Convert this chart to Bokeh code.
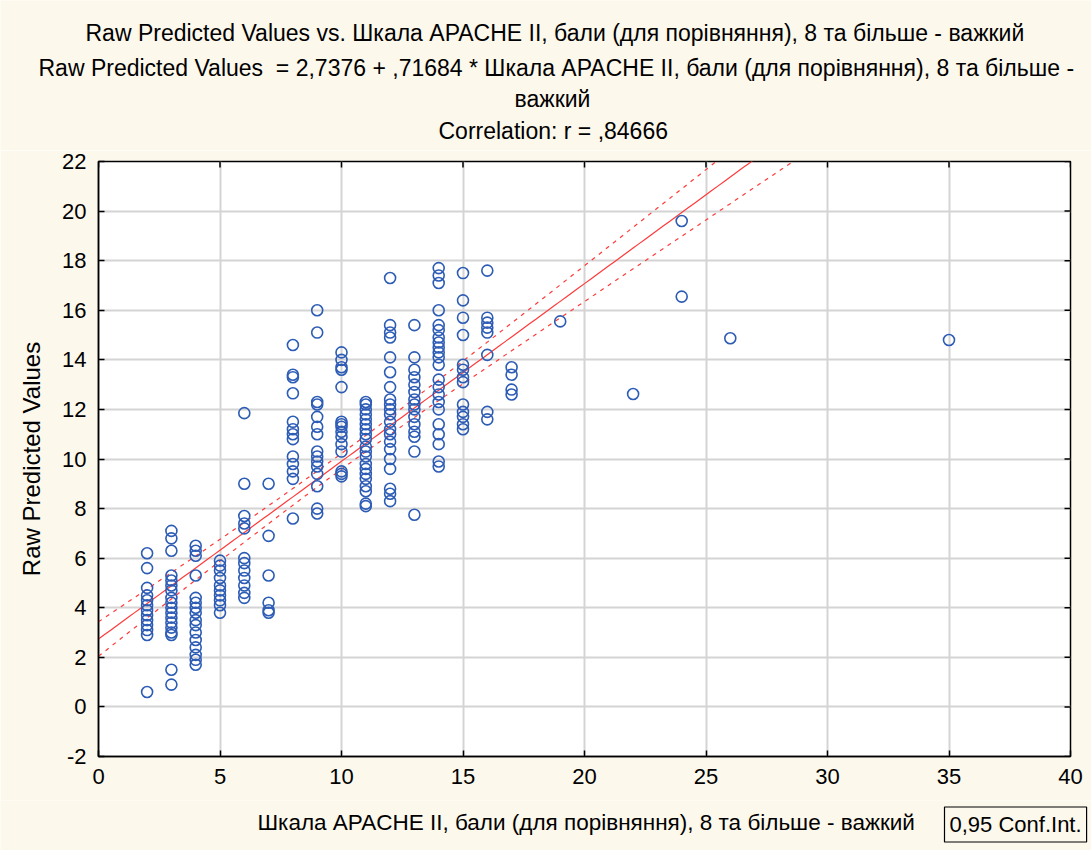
import numpy as np
from bokeh.plotting import figure
from bokeh.layouts import column
from bokeh.models import Label, FixedTicker, Range1d, Plot
from bokeh.embed import file_html
from bokeh.resources import INLINE

# ---- data ----
apache_2 = [6.2, 5.6, 4.8, 4.5, 4.3, 4.1, 3.9, 3.7, 3.5, 3.3, 3.1, 2.9, 0.6]
apache_3 = [7.1, 6.8, 6.3, 5.3, 5.1, 4.9, 4.7, 4.4, 4.2, 4.0, 3.8, 3.6, 3.4, 3.2, 3.0, 2.9, 1.5, 0.9]
apache_4 = [6.5, 6.3, 6.1, 5.3, 4.4, 4.2, 4.0, 3.8, 3.5, 3.3, 3.0, 2.7, 2.4, 2.1, 1.9, 1.7]
apache_5 = [5.9, 5.7, 5.5, 5.2, 4.9, 4.7, 4.5, 4.3, 4.1, 3.8]
apache_6 = [11.85, 9.0, 7.7, 7.4, 7.2, 6.0, 5.8, 5.5, 5.2, 4.9, 4.6, 4.4]
apache_7 = [9.0, 6.9, 5.3, 4.2, 3.9, 3.8]
apache_8 = [14.6, 13.4, 13.3, 12.65, 11.5, 11.2, 11.0, 10.8, 10.1, 9.8, 9.5, 9.2, 7.6]
apache_9 = [16.0, 15.1, 12.3, 12.2, 11.7, 11.3, 11.0, 10.3, 10.1, 9.9, 9.7, 9.4, 8.9, 8.0, 7.8]
apache_10 = [14.3, 14.0, 13.7, 13.6, 12.9, 11.5, 11.4, 11.3, 11.1, 10.9, 10.6, 10.3, 9.5, 9.4, 9.3]
apache_11 = [12.3, 12.2, 12.0, 11.8, 11.6, 11.4, 11.2, 11.0, 10.8, 10.5, 10.3, 10.1, 9.8, 9.6, 9.4,
             9.2, 8.9, 8.7, 8.2, 8.1]
apache_12 = [17.3, 15.4, 15.1, 14.9, 14.1, 13.5, 12.9, 12.4, 12.2, 12.0, 11.8, 11.5, 11.2, 11.0, 10.7,
             10.4, 10.0, 9.6, 8.8, 8.6, 8.3]
apache_13 = [15.4, 14.1, 13.6, 13.3, 13.0, 12.7, 12.4, 12.2, 12.0, 11.7, 11.4, 11.1, 10.9, 10.3, 7.75]
apache_14 = [17.7, 17.4, 17.1, 16.0, 15.4, 15.2, 14.9, 14.7, 14.5, 14.3, 14.1, 13.8, 13.2, 12.9, 12.6,
             12.3, 12.0, 11.4, 11.0, 10.6, 9.9, 9.7]
apache_15 = [17.5, 16.4, 15.7, 15.0, 13.8, 13.6, 13.3, 13.1, 12.2, 11.9, 11.7, 11.4, 11.2]
apache_16 = [17.6, 15.7, 15.5, 15.3, 15.1, 14.2, 11.9, 11.6]
apache_17 = [13.7, 13.4, 12.8, 12.6]
apache_19 = [15.55]
apache_22 = [12.62]
apache_24 = [19.6, 16.55]
apache_26 = [14.87]
apache_35 = [14.8]

score_columns = {2: apache_2, 3: apache_3, 4: apache_4, 5: apache_5, 6: apache_6, 7: apache_7,
                 8: apache_8, 9: apache_9, 10: apache_10, 11: apache_11, 12: apache_12,
                 13: apache_13, 14: apache_14, 15: apache_15, 16: apache_16, 17: apache_17,
                 19: apache_19, 22: apache_22, 24: apache_24, 26: apache_26, 35: apache_35}

INTERCEPT = 2.7376
SLOPE = 0.71684

x_ticks = [0, 5, 10, 15, 20, 25, 30, 35, 40]
y_ticks = [-2, 0, 2, 4, 6, 8, 10, 12, 14, 16, 18, 20, 22]

title_1 = "Raw Predicted Values vs. Шкала APACHE II, бали (для порівняння), 8 та більше - важкий"
title_2 = "Raw Predicted Values\u00a0 = 2,7376 + ,71684 * Шкала APACHE II, бали (для порівняння), 8 та більше -"
title_3 = "важкий"
title_4 = "Correlation: r = ,84666"
x_label = "Шкала APACHE II, бали (для порівняння), 8 та більше - важкий"
y_label = "Raw Predicted Values"
legend_text = "0,95 Conf.Int."

# ---- build arrays ----
xs, ys = [], []
for k, vals in score_columns.items():
    xs += [k] * len(vals)
    ys += vals
xs = np.array(xs, dtype=float)
ys = np.array(ys, dtype=float)

# regression line & 95% confidence band of the mean
n = len(xs)
resid = ys - (INTERCEPT + SLOPE * xs)
s = np.sqrt(np.sum(resid ** 2) / (n - 2))
xbar = xs.mean()
sxx = np.sum((xs - xbar) ** 2)
grid = np.linspace(0, 40, 161)
fit = INTERCEPT + SLOPE * grid
half = 1.97 * s * np.sqrt(1.0 / n + (grid - xbar) ** 2 / sxx)

FONT = "Liberation Sans"
CREAM = "#FDF8EC"
BLUE = "#2D5CB5"
RED = "#FF3A3A"

W = 1091
H_HEAD = 150
H_MAIN = 650
H_FOOT = 50

HAS_FRAME_ALIGN = "frame_align" in Plot.properties()


def text_panel(height):
    f = figure(width=W, height=height, output_backend="svg", toolbar_location=None,
               x_range=Range1d(0, W), y_range=Range1d(height, 0),
               x_axis_type=None, y_axis_type=None, min_border=0,
               background_fill_color=CREAM, border_fill_color=CREAM)
    f.outline_line_color = None
    f.grid.visible = False
    if HAS_FRAME_ALIGN:
        f.frame_align = False
    return f


# ---- header with the titles ----
head = text_panel(H_HEAD)
for txt, x0, yc in ((title_1, 85, 32), (title_2, 38, 67), (title_3, 514, 98), (title_4, 438, 130)):
    head.add_layout(Label(x=x0, y=yc, text=txt, text_align="left", text_baseline="middle",
                          text_font=FONT, text_font_size="23px", text_color="black"))

# ---- main plot ----
p = figure(width=W, height=H_MAIN, output_backend="svg", toolbar_location=None,
           x_range=Range1d(0, 40), y_range=Range1d(-2, 22),
           min_border_left=98, min_border_right=21, min_border_top=11, min_border_bottom=44,
           background_fill_color="white", border_fill_color=CREAM)
if HAS_FRAME_ALIGN:
    p.frame_align = False
p.outline_line_color = "black"
p.outline_line_width = 1.5

for ax in (p.xaxis[0], p.yaxis[0]):
    ax.major_label_text_font = FONT
    ax.major_label_text_font_size = "22px"
    ax.major_label_text_color = "black"
    ax.axis_label_text_font = FONT
    ax.axis_label_text_font_style = "normal"
    ax.axis_label_text_color = "black"
    ax.major_tick_in = 6
    ax.major_tick_out = 0
    ax.minor_tick_line_color = None
    ax.axis_line_color = "black"
    ax.axis_line_width = 1.5
    ax.major_tick_line_color = "black"
    ax.major_tick_line_width = 1.5

p.xaxis[0].ticker = FixedTicker(ticks=x_ticks)
p.yaxis[0].ticker = FixedTicker(ticks=y_ticks)
p.yaxis[0].major_label_overrides = {t: str(t) for t in y_ticks}
p.yaxis[0].axis_label = y_label
p.yaxis[0].axis_label_text_font_size = "24px"
p.xaxis[0].major_label_standoff = 12
p.yaxis[0].major_label_standoff = 12
p.yaxis[0].axis_label_standoff = 14

p.xgrid.ticker = FixedTicker(ticks=x_ticks)
p.ygrid.ticker = FixedTicker(ticks=y_ticks)
p.grid.grid_line_color = "#D4D4D4"
p.grid.grid_line_width = 2

# inward tick marks on the top and right frame edges
p.scatter(x_ticks, [22] * len(x_ticks), marker="dash", angle=np.pi / 2, size=12,
          line_color="black", line_width=1.5)
p.scatter([40] * len(y_ticks), y_ticks, marker="dash", size=12,
          line_color="black", line_width=1.5)

# band and fit
p.line(grid, fit + half, line_color=RED, line_width=1.2, line_dash="4 5")
p.line(grid, fit - half, line_color=RED, line_width=1.2, line_dash="4 5")
p.line(grid, fit, line_color=RED, line_width=1.2)

p.scatter(xs, ys, marker="circle", size=11, fill_color=None, line_color=BLUE, line_width=1.6)

# ---- footer: x-axis title and the confidence-interval legend box ----
foot = text_panel(H_FOOT)
foot.add_layout(Label(x=257, y=22, text=x_label, text_align="left", text_baseline="middle",
                      text_font=FONT, text_font_size="22.5px", text_color="black"))
foot.add_layout(Label(x=944, y=24, text=legend_text, text_align="left", text_baseline="middle",
                      text_font=FONT, text_font_size="22px", text_color="black",
                      border_line_color="black", border_line_width=1.2,
                      background_fill_color=CREAM, padding=5))

layout = column(head, p, foot, spacing=0)
open("out.html", "w").write(file_html(layout, INLINE))
